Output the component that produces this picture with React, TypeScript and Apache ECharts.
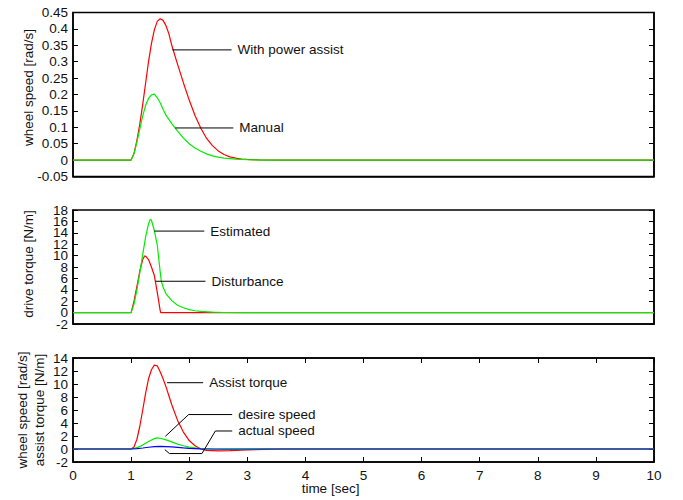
import React, { useEffect, useRef } from "react";
import * as echarts from "echarts";

// ---------- Panel 1: wheel speed [rad/s] ----------
const assistSpeedT = [0, 1.0, 1.05, 1.1, 1.15, 1.2, 1.25, 1.3, 1.35, 1.4, 1.45, 1.5, 1.55, 1.6, 1.65, 1.7, 1.8, 1.9, 2.0, 2.1, 2.2, 2.3, 2.4, 2.5, 2.6, 2.7, 2.8, 2.9, 3.0, 3.2, 3.5, 10];
const assistSpeedV = [0, 0, 0.02, 0.06, 0.11, 0.17, 0.235, 0.3, 0.355, 0.397, 0.423, 0.431, 0.426, 0.41, 0.385, 0.35, 0.292, 0.236, 0.183, 0.136, 0.097, 0.066, 0.044, 0.028, 0.017, 0.01, 0.006, 0.003, 0.002, 0.0005, 0, 0];
const manualSpeedT = [0, 1.0, 1.05, 1.1, 1.15, 1.2, 1.25, 1.3, 1.35, 1.4, 1.45, 1.5, 1.55, 1.6, 1.7, 1.8, 1.9, 2.0, 2.1, 2.2, 2.3, 2.4, 2.5, 2.6, 2.8, 3.0, 3.3, 10];
const manualSpeedV = [0, 0, 0.02, 0.055, 0.095, 0.135, 0.167, 0.188, 0.199, 0.201, 0.19, 0.175, 0.155, 0.137, 0.111, 0.088, 0.067, 0.05, 0.037, 0.027, 0.019, 0.013, 0.009, 0.006, 0.003, 0.0015, 0, 0];

// ---------- Panel 2: drive torque [N/m] ----------
const disturbanceT = [0, 1.0, 1.05, 1.1, 1.15, 1.2, 1.23, 1.25, 1.3, 1.35, 1.4, 1.45, 1.5, 1.51, 10];
const disturbanceV = [0, 0, 2.0, 4.6, 7.3, 9.3, 9.9, 9.9, 9.3, 8.0, 6.5, 3.6, 0.4, 0, 0];
const estimatedT = [0, 1.0, 1.05, 1.1, 1.15, 1.2, 1.25, 1.3, 1.33, 1.35, 1.4, 1.45, 1.5, 1.52, 1.55, 1.6, 1.7, 1.8, 1.9, 2.0, 2.1, 2.2, 2.4, 2.6, 3.0, 10];
const estimatedV = [0, 0, 1.5, 4.0, 7.0, 10.2, 13.3, 15.6, 16.4, 16.2, 14.4, 11.9, 7.2, 5.5, 4.5, 3.3, 2.1, 1.3, 0.85, 0.52, 0.32, 0.2, 0.07, 0.02, 0, 0];

// ---------- Panel 3: assist torque / wheel speed ----------
const assistTorqueT = [0, 1.0, 1.05, 1.1, 1.15, 1.2, 1.25, 1.3, 1.35, 1.4, 1.45, 1.5, 1.55, 1.6, 1.65, 1.7, 1.8, 1.9, 2.0, 2.1, 2.2, 2.3, 2.5, 2.7, 3.0, 3.3, 3.6, 10];
const assistTorqueV = [0, 0, 0.3, 1.5, 3.5, 6.0, 8.6, 10.8, 12.2, 12.9, 12.8, 11.9, 10.8, 9.6, 8.2, 6.8, 4.4, 2.6, 1.3, 0.5, 0.0, -0.2, -0.3, -0.25, -0.12, -0.05, 0, 0];
const desireSpeedT = [0, 1.0, 1.1, 1.2, 1.3, 1.4, 1.45, 1.5, 1.6, 1.7, 1.8, 1.9, 2.0, 2.1, 2.2, 2.4, 2.6, 3.0, 3.5, 10];
const desireSpeedV = [0, 0, 0.2, 0.6, 1.15, 1.6, 1.7, 1.65, 1.4, 1.1, 0.75, 0.5, 0.3, 0.17, 0.08, 0, -0.05, -0.03, 0, 0];
const actualSpeedT = [0, 1.0, 1.1, 1.2, 1.3, 1.4, 1.5, 1.6, 1.7, 1.8, 1.9, 2.0, 2.2, 2.4, 10];
const actualSpeedV = [0, 0, 0.05, 0.15, 0.27, 0.36, 0.4, 0.38, 0.32, 0.24, 0.16, 0.1, 0.03, 0, 0];

// ---------- Axis ranges and tick labels ----------
const timeTicks = { min: 0, max: 10, interval: 1 };
const speedTicks = { min: -0.05, max: 0.45, interval: 0.05 };
const driveTicks = { min: -2, max: 18, interval: 2 };
const assistTicks = { min: -2, max: 14, interval: 2 };
const speedLabelsA = [-0.05, 0.05, 0.15, 0.25, 0.35, 0.45];
const speedLabelsB = [0, 0.1, 0.2, 0.3, 0.4];
const driveLabelsA = [-2, 2, 6, 10, 14, 18];
const driveLabelsB = [0, 4, 8, 12, 16];
const assistLabelsA = [-2, 2, 6, 10, 14];
const assistLabelsB = [0, 4, 8, 12];

// ---------- Annotation leaders (data coordinates) ----------
const leaderPowerT = [1.71, 2.73];
const leaderPowerV = [0.336, 0.336];
const leaderManualT = [1.76, 2.76];
const leaderManualV = [0.098, 0.098];
const leaderEstimatedT = [1.4, 2.26];
const leaderEstimatedV = [14.3, 14.3];
const leaderDisturbT = [1.42, 2.28];
const leaderDisturbV = [5.5, 5.5];
const leaderAssistT = [1.62, 2.24];
const leaderAssistV = [10.2, 10.2];
const leaderDesireT = [1.59, 1.99, 2.74];
const leaderDesireV = [1.95, 5.3, 5.3];
const leaderActualT = [1.58, 1.66, 2.22, 2.45, 2.74];
const leaderActualV = [-0.1, -0.7, -0.7, 2.77, 2.77];

const FONT = "Liberation Sans, Arial, sans-serif";
const TXT = "#111";
const FS = 13.5;

const zip = (t: number[], v: number[]) => t.map((x, i) => [x, v[i]]);
const fmtNum = (v: number) => String(Math.round(v * 100) / 100);

const curve = (name: string, t: number[], v: number[], color: string, xi: number, yi: number) => ({
  name,
  type: "line",
  xAxisIndex: xi,
  yAxisIndex: yi,
  data: zip(t, v),
  symbol: "none",
  lineStyle: { color, width: 1.2 },
  itemStyle: { color },
  silent: true,
});

const leader = (text: string, t: number[], v: number[], xi: number, yi: number) => ({
  name: text,
  type: "line",
  xAxisIndex: xi,
  yAxisIndex: yi,
  data: zip(t, v),
  symbol: "none",
  silent: true,
  lineStyle: { color: "#000", width: 1 },
  itemStyle: { color: "#000" },
  endLabel: {
    show: true,
    formatter: text,
    distance: 6,
    fontSize: FS,
    color: TXT,
    fontFamily: FONT,
  },
});

const gridBase = { show: true, borderColor: "#000", borderWidth: 1.5, backgroundColor: "transparent" };

const tickStyle = { show: true, inside: true, length: 5, lineStyle: { color: "#000", width: 1 } };
const labelStyle = {
  fontSize: FS,
  color: TXT,
  fontFamily: FONT,
  margin: 5,
  showMinLabel: true,
  showMaxLabel: true,
};

const xAxisFor = (gi: number, withLabels: boolean, ticks: boolean, position = "bottom") => ({
  type: "value",
  gridIndex: gi,
  position,
  ...timeTicks,
  axisLine: { show: true, onZero: false, lineStyle: { color: "#000", width: 1.5 } },
  axisTick: ticks ? tickStyle : { show: false },
  splitLine: { show: false },
  axisLabel: withLabels ? { ...labelStyle, margin: 6 } : { show: false },
  ...(withLabels
    ? {
        name: "time [sec]",
        nameLocation: "middle",
        nameGap: 19,
        nameMoveOverlap: false,
        nameTextStyle: { fontSize: FS, color: TXT, fontFamily: FONT, padding: [0, 66, 0, 0] },
      }
    : {}),
});

// main left axis: frame line, ticks, name and every other label
const leftAxis = (gi: number, ticks: any, labels: number[], name: string, nameGap: number, pad: number[]) => ({
  type: "value",
  gridIndex: gi,
  position: "left",
  ...ticks,
  axisLine: { show: true, onZero: false, lineStyle: { color: "#000", width: 1.5 } },
  axisTick: tickStyle,
  splitLine: { show: false },
  axisLabel: { ...labelStyle, customValues: labels, formatter: fmtNum },
  name,
  nameLocation: "middle",
  nameGap,
  nameMoveOverlap: false,
  nameTextStyle: { fontSize: FS, color: TXT, fontFamily: FONT, lineHeight: 17, padding: pad },
});

// companion left axis carrying the remaining labels
const leftLabelAxis = (gi: number, ticks: any, labels: number[]) => ({
  type: "value",
  gridIndex: gi,
  position: "left",
  ...ticks,
  axisLine: { show: false, onZero: false },
  axisTick: { show: false },
  splitLine: { show: false },
  axisLabel: { ...labelStyle, customValues: labels, formatter: fmtNum },
});

const rightAxis = (gi: number, ticks: any) => ({
  type: "value",
  gridIndex: gi,
  position: "right",
  ...ticks,
  axisLine: { show: true, onZero: false, lineStyle: { color: "#000", width: 1.5 } },
  axisTick: tickStyle,
  splitLine: { show: false },
  axisLabel: { show: false },
});

export default function App() {
  const ref = useRef<HTMLDivElement>(null);
  useEffect(() => {
    const chart = echarts.init(ref.current!, null, { renderer: "svg" });
    chart.setOption({
      animation: false,
      backgroundColor: "#fff",
      grid: [
        { ...gridBase, left: 73, right: 29, top: 12.5, height: 164 },
        { ...gridBase, left: 73, right: 29, top: 210, height: 114 },
        { ...gridBase, left: 73, right: 29, top: 358, height: 104 },
      ],
      xAxis: [
        xAxisFor(0, false, false),
        xAxisFor(1, false, false),
        xAxisFor(2, true, true),
        xAxisFor(2, false, true, "top"),
      ],
      yAxis: [
        leftAxis(0, speedTicks, speedLabelsA, "wheel speed [rad/s]", 36, [0, 0, 0, 14]),
        rightAxis(0, speedTicks),
        leftAxis(1, driveTicks, driveLabelsA, "drive torque [N/m]", 36, [0, 0, 0, 6]),
        rightAxis(1, driveTicks),
        leftAxis(2, assistTicks, assistLabelsA, "wheel speed [rad/s]\nassist torque [N/m]", 25, [0, 0, 0, 0]),
        rightAxis(2, assistTicks),
        leftLabelAxis(0, speedTicks, speedLabelsB),
        leftLabelAxis(1, driveTicks, driveLabelsB),
        leftLabelAxis(2, assistTicks, assistLabelsB),
      ],
      series: [
        curve("With power assist", assistSpeedT, assistSpeedV, "#ff0000", 0, 0),
        curve("Manual", manualSpeedT, manualSpeedV, "#00ee00", 0, 0),
        leader("With power assist", leaderPowerT, leaderPowerV, 0, 0),
        leader("Manual", leaderManualT, leaderManualV, 0, 0),

        curve("Disturbance", disturbanceT, disturbanceV, "#ff0000", 1, 2),
        curve("Estimated", estimatedT, estimatedV, "#00ee00", 1, 2),
        leader("Estimated", leaderEstimatedT, leaderEstimatedV, 1, 2),
        leader("Disturbance", leaderDisturbT, leaderDisturbV, 1, 2),

        curve("Assist torque", assistTorqueT, assistTorqueV, "#ff0000", 2, 4),
        curve("desire speed", desireSpeedT, desireSpeedV, "#00ee00", 2, 4),
        curve("actual speed", actualSpeedT, actualSpeedV, "#0000ff", 2, 4),
        leader("Assist torque", leaderAssistT, leaderAssistV, 2, 4),
        leader("desire speed", leaderDesireT, leaderDesireV, 2, 4),
        leader("actual speed", leaderActualT, leaderActualV, 2, 4),
      ],
    });
    return () => chart.dispose();
  }, []);
  return <div ref={ref} style={{ position: "absolute", left: 0, top: 0, width: 683, height: 500 }} />;
}
